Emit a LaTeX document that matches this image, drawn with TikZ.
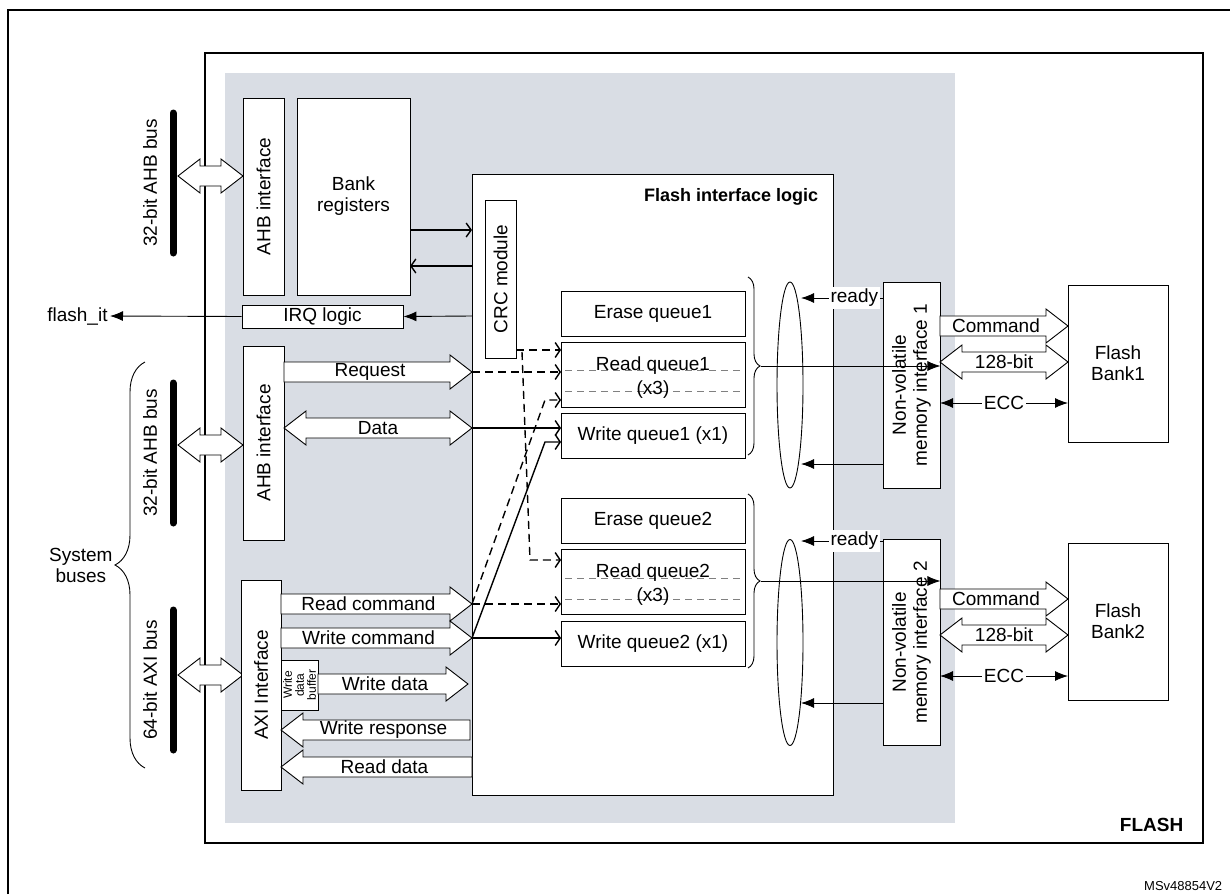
\documentclass[tikz,border=0pt]{standalone}
\usepackage{fontspec}
\setmainfont{Liberation Sans}
\usetikzlibrary{arrows.meta,shapes.geometric,decorations.pathreplacing,calc}
\definecolor{panel}{RGB}{217,221,228}
\newcommand\rarrow[4]{\draw[fill=white] (#1,#3-10) -- (#2-22,#3-10) -- (#2-22,#3-17) -- (#2,#3) -- (#2-22,#3+17) -- (#2-22,#3+10) -- (#1,#3+10) -- cycle;
  \node[lbl] at ({(#1+#2)/2-8},#3) {#4};}
\newcommand\larrow[4]{\draw[fill=white] (#2,#3-10) -- (#1+22,#3-10) -- (#1+22,#3-17) -- (#1,#3) -- (#1+22,#3+17) -- (#1+22,#3+10) -- (#2,#3+10) -- cycle;
  \node[lbl] at ({(#1+#2)/2+8},#3) {#4};}
\newcommand\darrow[4]{\draw[fill=white] (#1,#3) -- (#1+22,#3-17) -- (#1+22,#3-10) -- (#2-22,#3-10) -- (#2-22,#3-17) -- (#2,#3) -- (#2-22,#3+17) -- (#2-22,#3+10) -- (#1+22,#3+10) -- (#1+22,#3+17) -- cycle;
  \node[lbl] at ({(#1+#2)/2},#3) {#4};}
\begin{document}
\begin{tikzpicture}[x=1pt,y=-1pt,line width=0.9pt,
    lbl/.style={font=\fontsize{19}{21}\selectfont, inner sep=0pt},
    box/.style={draw, fill=white, font=\fontsize{19}{21}\selectfont, align=center, inner sep=1pt},
    bar/.style={line width=7pt, line cap=round},
    qarr/.style={-{Straight Barb[length=5pt,width=15pt]}, line width=1.4pt},
    dsh/.style={dash pattern=on 8pt off 5pt},
    tri/.style={-{Latex[length=13pt,width=10pt]}},
    ell/.style={draw, ellipse, fill=white, minimum width=26, inner sep=0pt}]
  \useasboundingbox (0,0) rectangle (1230,894);
  % frames
  \draw[line width=1.5pt] (8,894) -- (8,10) -- (1230,10);
  \draw[line width=1.8pt] (205,53) rectangle (1203,843);
  \fill[panel] (225,73) rectangle (955,823);
  \node[font=\bfseries\fontsize{19}{21}\selectfont, anchor=east] (flash) at (1187,825) {FLASH};
  \node[font=\fontsize{13}{15}\selectfont, anchor=base east] (code) at (1226,890) {MSv48854V2};
  % system buses
  \foreach \ya/\yb/\txt in {113/253/32-bit AHB bus, 383/523/32-bit AHB bus, 610/750/64-bit AXI bus}{
    \draw[bar] (173,\ya) -- (173,\yb);
    \node[lbl, rotate=90] at (150,{(\ya+\yb)/2}) {\txt};
  }
  \draw[decorate, decoration={brace, amplitude=30pt}] (145,768) -- (145,362)
    node[midway, left=32pt, lbl, align=center] (sysbus) {System\\buses};
  \darrow{178}{243}{176}{}
  \darrow{178}{243}{445}{}
  \darrow{178}{243}{675}{}
  % left blocks
  \node[box, rotate=90, minimum width=197, minimum height=41] (ahbA) at (263.5,196.5) {AHB interface};
  \node[box, minimum width=113, minimum height=197] (bankreg) at (353.5,196.5) {Bank\\registers};
  \node[box, minimum width=161, minimum height=23] (irq) at (322.5,316.5) {IRQ logic};
  \node[box, rotate=90, minimum width=194, minimum height=41] (ahbB) at (263.5,443) {AHB interface};
  \node[box, rotate=90, minimum width=210, minimum height=40] (axi) at (261,685) {AXI Interface};
  \node[box, minimum width=50, minimum height=37, font=\fontsize{12}{12}\selectfont, rotate=90] (wbuf) at (299.5,685) {Write\\data\\buffer};
  % flash interface logic
  \node[box, minimum width=361, minimum height=621] (fil) at (652.5,484.5) {};
  \node[font=\bfseries\fontsize{18}{20}\selectfont, anchor=east] (filtxt) at (822,197) {Flash interface logic};
  \node[box, rotate=90, minimum width=158, minimum height=31] (crc) at (500.5,279) {CRC module};
  \draw[line width=1.4pt, -{Straight Barb[length=5pt,width=14pt]}] (410,230) -- (472,230);
  \draw[line width=1.4pt, -{Straight Barb[length=5pt,width=14pt]}] (472,266) -- (410,266);
  \draw[tri] (472,316) -- (irq.east);
  \draw[tri] (irq.west) -- (110,316) node[lbl, left=2pt] (flashit) {flash\_it};
  % hollow arrows
  \rarrow{284}{472}{372}{Request}
  \darrow{284}{472}{428}{Data}
  \rarrow{281}{472}{604}{Read command}
  \rarrow{281}{472}{638}{Write command}
  \rarrow{318}{468}{684}{Write data}
  \larrow{281}{470}{730}{Write response}
  \larrow{281}{472}{767}{Read data}
  % queues
  \foreach \n/\yc/\txt in {eq1/313.5/Erase queue1, wq1/436/Write queue1 (x1), eq2/520.5/Erase queue2, wq2/643.5/Write queue2 (x1)}
    \node[box, minimum width=184, minimum height=45] (\n) at (653,\yc) {\txt};
  \foreach \n/\yc/\k in {rq1/374.5/1, rq2/582/2}{
    \node[box, minimum width=184, minimum height=65] (\n) at (653,\yc) {};
    \draw[gray, line width=0.6pt, dash pattern=on 7pt off 5pt] (565,\yc-4) -- (741,\yc-4) (565,\yc+17) -- (741,\yc+17);
    \node[lbl] at (653,\yc-9) {Read queue\k};
    \node[lbl] at (653,\yc+15) {(x3)};
  }
  % routes into queues
  \draw[qarr, dsh] (516,350) -- (561,350);
  \draw[qarr, dsh] (522,352) -- (530,560) -- (561,560);
  \draw[qarr, dsh] (472,372) -- (561,372);
  \draw[qarr] (472,428) -- (561,428);
  \draw[qarr, dsh] (472,604) -- (561,604);
  \draw[qarr, dsh] (472,604) -- (545,400) -- (561,400);
  \draw[qarr] (472,638) -- (561,638);
  \draw[qarr] (472,638) -- (545,442) -- (561,442);
  % memory interfaces and banks
  \foreach \k/\yc/\yb in {1/385/363.5, 2/642.5/621.5}{
    \node[ell, minimum height=206] (ell\k) at (790,\yc) {};
    \node[box, rotate=90, minimum width=206, minimum height=57] (nvm\k) at (911.5,\yc) {Non-volatile\\memory interface \k};
    \node[box, minimum width=100, minimum height=157] (bank\k) at (1118,\yb) {Flash\\Bank\k};
  }
  \draw[decorate, decoration={brace, amplitude=12pt}] (748,277) -- (748,455) coordinate[midway, xshift=13pt] (br1);
  \draw[decorate, decoration={brace, amplitude=12pt}] (748,494) -- (748,668) coordinate[midway, xshift=13pt] (br2);
  \draw[tri] (br1) -- (br1 -| nvm1.south);
  \draw[tri] (br2) -- (br2 -| nvm2.south);
  \draw[tri] (883,298) -- (801,298) node[pos=0.35, lbl, fill=white, inner sep=2pt] (rdy1) {ready};
  \draw[tri] (883,541) -- (801,541) node[pos=0.35, lbl, fill=white, inner sep=2pt] (rdy2) {ready};
  \draw[tri] (883,464) -- (801,464);
  \draw[tri] (883,703) -- (801,703);
  \foreach \yc/\k in {326/1, 599/2}{
    \rarrow{940}{1068}{\yc}{Command}
    \darrow{940}{1068}{\yc+36}{128-bit}
    \draw[{Latex[length=13pt,width=10pt]}-{Latex[length=13pt,width=10pt]}] (940,\yc+77) -- node[lbl, fill=white, inner sep=2pt] {ECC} (1068,\yc+77);
  }
\end{tikzpicture}
\end{document}
